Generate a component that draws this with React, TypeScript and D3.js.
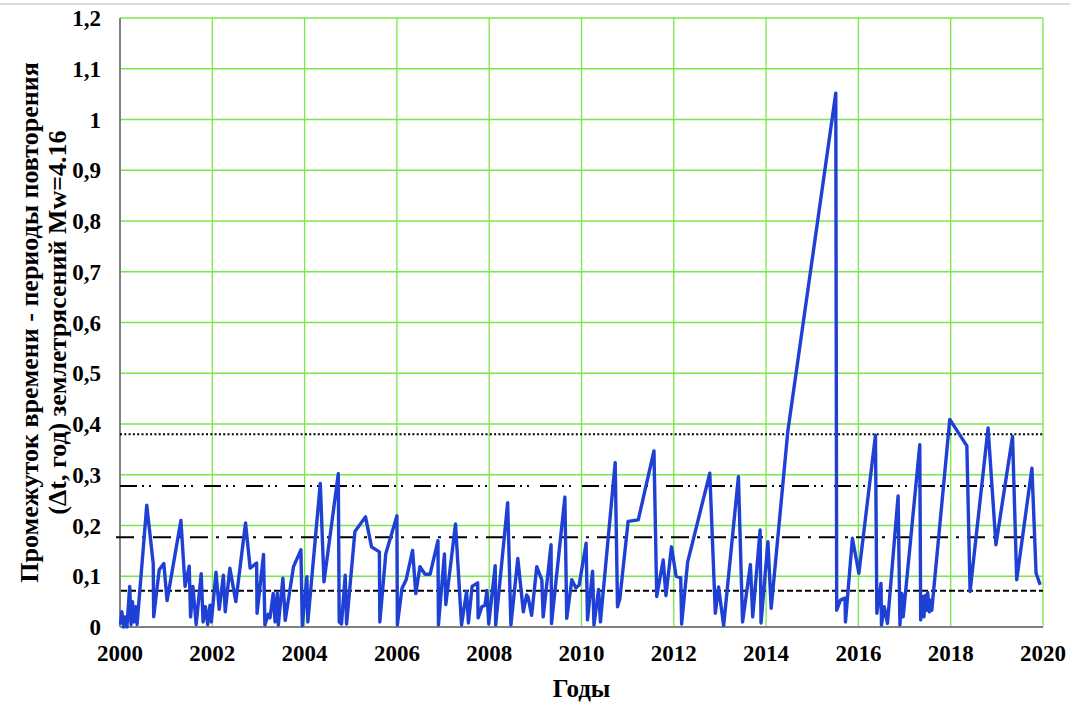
import React from "react";
import * as d3 from "d3";

const years: number[] = [
  2000.01, 2000.04, 2000.08, 2000.11, 2000.15, 2000.21, 2000.24, 2000.27, 2000.30, 2000.34,
  2000.37, 2000.58, 2000.72, 2000.73, 2000.85, 2000.95, 2001.02, 2001.32, 2001.41, 2001.50,
  2001.53, 2001.58, 2001.65, 2001.76, 2001.80, 2001.85, 2001.90, 2001.95, 2001.98, 2002.08,
  2002.15, 2002.24, 2002.28, 2002.38, 2002.51, 2002.72, 2002.82, 2002.96, 2002.97, 2003.11,
  2003.14, 2003.21, 2003.25, 2003.32, 2003.36, 2003.41, 2003.43, 2003.53, 2003.58, 2003.76,
  2003.92, 2003.95, 2004.05, 2004.07, 2004.34, 2004.42, 2004.73, 2004.75, 2004.80, 2004.88,
  2004.91, 2005.09, 2005.32, 2005.45, 2005.62, 2005.63, 2005.76, 2006.00, 2006.01, 2006.11,
  2006.20, 2006.34, 2006.41, 2006.50, 2006.61, 2006.72, 2006.89, 2006.90, 2007.03, 2007.06,
  2007.27, 2007.40, 2007.51, 2007.55, 2007.63, 2007.75, 2007.76, 2007.84, 2007.91, 2007.95,
  2007.99, 2008.13, 2008.14, 2008.40, 2008.47, 2008.62, 2008.74, 2008.81, 2008.84, 2008.92,
  2009.03, 2009.14, 2009.17, 2009.34, 2009.35, 2009.64, 2009.68, 2009.79, 2009.88, 2009.95,
  2010.10, 2010.13, 2010.24, 2010.27, 2010.37, 2010.41, 2010.73, 2010.78, 2010.83, 2011.01,
  2011.23, 2011.57, 2011.63, 2011.77, 2011.83, 2011.95, 2012.05, 2012.15, 2012.17, 2012.30,
  2012.78, 2012.90, 2012.97, 2013.08, 2013.40, 2013.49, 2013.66, 2013.71, 2013.87, 2013.89,
  2014.04, 2014.11, 2014.47, 2015.51, 2015.53, 2015.61, 2015.71, 2015.72, 2015.87, 2016.01,
  2016.37, 2016.40, 2016.49, 2016.50, 2016.56, 2016.63, 2016.86, 2016.90, 2016.94, 2016.97,
  2017.33, 2017.35, 2017.39, 2017.42, 2017.45, 2017.48, 2017.50, 2017.54, 2017.57, 2017.59,
  2017.98, 2018.35, 2018.42, 2018.81, 2018.98, 2019.34, 2019.43, 2019.76, 2019.85, 2019.94,
];

const intervals: number[] = [
  0.005, 0.03, 0.0, 0.02, 0.0, 0.08, 0.005, 0.05, 0.01, 0.04,
  0.005, 0.24, 0.125, 0.02, 0.113, 0.125, 0.052, 0.21, 0.08, 0.12,
  0.02, 0.08, 0.005, 0.105, 0.01, 0.04, 0.005, 0.043, 0.01, 0.108,
  0.035, 0.102, 0.03, 0.116, 0.05, 0.205, 0.116, 0.126, 0.027, 0.143,
  0.004, 0.025, 0.018, 0.066, 0.01, 0.067, 0.004, 0.096, 0.013, 0.119,
  0.152, 0.003, 0.099, 0.01, 0.283, 0.089, 0.302, 0.01, 0.006, 0.102,
  0.006, 0.188, 0.217, 0.158, 0.148, 0.01, 0.145, 0.219, 0.004, 0.076,
  0.093, 0.151, 0.066, 0.119, 0.104, 0.104, 0.17, 0.004, 0.144, 0.044,
  0.203, 0.004, 0.07, 0.008, 0.08, 0.087, 0.018, 0.04, 0.043, 0.072,
  0.006, 0.121, 0.004, 0.245, 0.004, 0.135, 0.03, 0.063, 0.06, 0.023,
  0.119, 0.093, 0.02, 0.162, 0.007, 0.256, 0.017, 0.093, 0.077, 0.083,
  0.165, 0.014, 0.11, 0.004, 0.074, 0.01, 0.324, 0.04, 0.055, 0.208,
  0.211, 0.347, 0.06, 0.132, 0.062, 0.158, 0.1, 0.097, 0.006, 0.128,
  0.303, 0.027, 0.079, 0.003, 0.296, 0.01, 0.123, 0.02, 0.191, 0.008,
  0.168, 0.037, 0.385, 1.052, 0.033, 0.053, 0.057, 0.01, 0.175, 0.106,
  0.378, 0.027, 0.086, 0.004, 0.04, 0.007, 0.258, 0.004, 0.066, 0.02,
  0.359, 0.014, 0.06, 0.02, 0.062, 0.033, 0.068, 0.03, 0.053, 0.033,
  0.409, 0.357, 0.07, 0.392, 0.162, 0.376, 0.093, 0.313, 0.106, 0.083,
];

const xTicks: number[] = [2000, 2002, 2004, 2006, 2008, 2010, 2012, 2014, 2016, 2018, 2020];
const yTicks: number[] = [0, 0.1, 0.2, 0.3, 0.4, 0.5, 0.6, 0.7, 0.8, 0.9, 1.0, 1.1, 1.2];

// horizontal reference levels
const levelDotted = 0.38;
const levelDashDotDot = 0.278;
const levelDashDot = 0.177;
const levelDashed = 0.0716;

const yTitle1 = "Промежуток времени - периоды повторения";
const yTitle2 = "(Δt, год) землетрясений Mw=4.16";
const xTitle = "Годы";

const W = 1070;
const H = 702;
const L = 120;
const R = 1043;
const T = 18;
const B = 627;

const FONT = '"Liberation Serif", "Times New Roman", "DejaVu Serif", serif';

export default function App() {
  const x = d3.scaleLinear().domain([2000, 2020]).range([L, R]);
  const y = d3.scaleLinear().domain([0, 1.2]).range([B, T]);
  const pts: [number, number][] = years.map((yr, i) => [yr, intervals[i]]);
  const line = d3
    .line<[number, number]>()
    .x((d) => x(d[0]))
    .y((d) => y(d[1]));
  const fmt = (v: number) => (v === 0 ? "0" : v === 1 ? "1" : d3.format(".1f")(v).replace(".", ","));
  const midY = (T + B) / 2;
  const grid = "#77e84a";
  const textStyle = { fontFamily: FONT, fontWeight: 700 } as React.CSSProperties;

  return (
    <svg
      width={W}
      height={H}
      style={{ position: "absolute", left: 0, top: 0, background: "#fff" }}
    >
      <line x1={0} x2={W} y1={4} y2={4} stroke="#dcdcdc" strokeWidth={2} />
      {/* grid */}
      {yTicks.slice(1).map((t) => (
        <line key={"gy" + t} x1={L} x2={R} y1={y(t)} y2={y(t)} stroke={grid} strokeWidth={1.3} />
      ))}
      {xTicks.slice(1).map((t) => (
        <line key={"gx" + t} x1={x(t)} x2={x(t)} y1={T} y2={B} stroke={grid} strokeWidth={1.3} />
      ))}
      {/* axes */}
      <line x1={L} x2={L} y1={T} y2={B} stroke="#808080" strokeWidth={2} />
      <line x1={L} x2={R} y1={B} y2={B} stroke="#808080" strokeWidth={2} />
      {/* reference lines */}
      <line x1={L} x2={R} y1={y(levelDotted)} y2={y(levelDotted)} stroke="#000" strokeWidth={2} strokeDasharray="2,2.3" />
      <line x1={L} x2={1037} y1={y(levelDashDotDot)} y2={y(levelDashDotDot)} stroke="#000" strokeWidth={2} strokeDasharray="17,5,2,5,2,11" />
      <line x1={116} x2={1038} y1={y(levelDashDot)} y2={y(levelDashDot)} stroke="#000" strokeWidth={2} strokeDasharray="18,8,3,8" />
      <line x1={121} x2={R} y1={y(levelDashed)} y2={y(levelDashed)} stroke="#000" strokeWidth={2} strokeDasharray="6,3" />
      {/* data */}
      <path d={line(pts) || ""} fill="none" stroke="#1f40d4" strokeWidth={3.4} strokeLinejoin="round" />
      {/* y tick labels */}
      {yTicks.map((t) => (
        <text key={"ty" + t} x={101} y={y(t)} dy="0.35em" textAnchor="end" fontSize={23} style={textStyle}>
          {fmt(t)}
        </text>
      ))}
      {xTicks.map((t) => (
        <text key={"tx" + t} x={x(t)} y={661} textAnchor="middle" fontSize={23} style={textStyle}>
          {t}
        </text>
      ))}
      <text x={(L + R) / 2} y={697} textAnchor="middle" fontSize={25} style={textStyle}>
        {xTitle}
      </text>
      <text transform={`translate(38,${midY}) rotate(-90)`} textAnchor="middle" fontSize={26} style={textStyle}>
        {yTitle1}
      </text>
      <text transform={`translate(66,${midY}) rotate(-90)`} textAnchor="middle" fontSize={26} style={textStyle}>
        {yTitle2}
      </text>
    </svg>
  );
}
